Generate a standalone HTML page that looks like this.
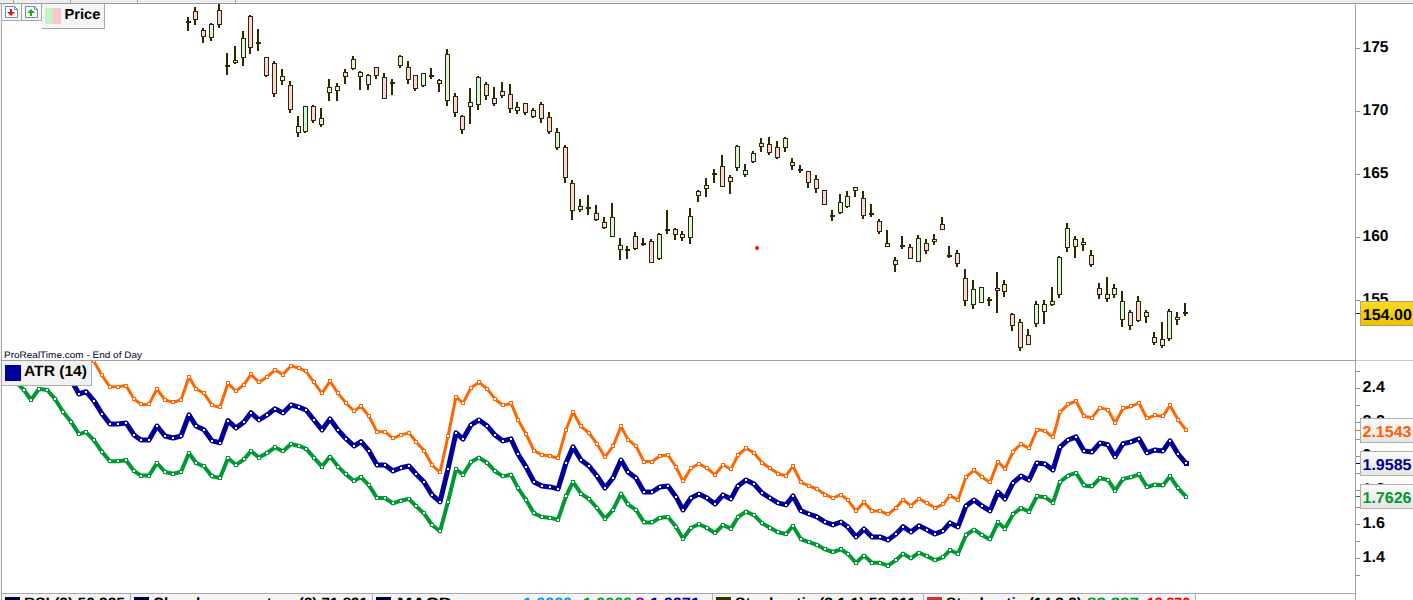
<!DOCTYPE html>
<html><head><meta charset="utf-8"><title>Chart</title><style>
html,body{margin:0;padding:0;background:#fff;width:1413px;height:600px;overflow:hidden}
svg{display:block}
text{font-family:"Liberation Sans",sans-serif;text-rendering:geometricPrecision}
</style></head><body>
<svg width="1413" height="600" viewBox="0 0 1413 600">
<defs>
<clipPath id="pc"><rect x="2" y="4" width="1353" height="356"/></clipPath>
<clipPath id="ac"><rect x="2" y="361" width="1353" height="232"/></clipPath>
<linearGradient id="yg" x1="0" y1="0" x2="0" y2="1"><stop offset="0" stop-color="#f8dc20"/><stop offset="1" stop-color="#f0c000"/></linearGradient>
</defs>
<g shape-rendering="crispEdges">
<rect x="0" y="0" width="1413" height="3" fill="#ededed"/>
<rect x="0" y="3" width="1413" height="1" fill="#9c9c9c"/>
<rect x="13" y="0" width="1" height="3" fill="#a8a8a0"/>
<rect x="70" y="0" width="1" height="3" fill="#a8a8a0"/>
<rect x="137" y="0" width="1" height="3" fill="#a8a8a0"/>
<rect x="235" y="0" width="1" height="3" fill="#a8a8a0"/>
<rect x="0" y="4" width="1" height="596" fill="#f2f2f6"/>
<rect x="1" y="4" width="1" height="596" fill="#a8a8a4"/>
<rect x="1355" y="4" width="1" height="596" fill="#a4a4a8"/>
<rect x="2" y="360" width="1353" height="1" fill="#a0a0a0"/>
<rect x="1356" y="360" width="57" height="1" fill="#c8c8d0"/>
<rect x="2" y="593" width="1353" height="1" fill="#a8a8b0"/>
<rect x="2" y="594" width="1193" height="6" fill="#f4f4f4"/>
</g>
<g clip-path="url(#pc)" shape-rendering="crispEdges">
<rect x="187" y="17" width="2" height="14" fill="#2a2a00"/>
<rect x="186" y="21" width="5" height="2" fill="#2a2a00"/>
<rect x="194" y="7" width="2" height="18" fill="#2a2a00"/>
<rect x="193" y="11" width="5" height="9" fill="#2a2a00"/>
<rect x="194" y="12" width="3" height="7" fill="#ffd4d6"/>
<rect x="202" y="28" width="2" height="15" fill="#2a2a00"/>
<rect x="201" y="30" width="5" height="7" fill="#2a2a00"/>
<rect x="202" y="31" width="3" height="5" fill="#ffd4d6"/>
<rect x="210" y="23" width="2" height="18" fill="#2a2a00"/>
<rect x="209" y="24" width="5" height="14" fill="#2a2a00"/>
<rect x="210" y="25" width="3" height="12" fill="#d6f8da"/>
<rect x="218" y="3" width="2" height="25" fill="#2a2a00"/>
<rect x="217" y="10" width="5" height="15" fill="#2a2a00"/>
<rect x="218" y="11" width="3" height="13" fill="#ffd4d6"/>
<rect x="226" y="53" width="2" height="22" fill="#2a2a00"/>
<rect x="225" y="65" width="5" height="2" fill="#2a2a00"/>
<rect x="234" y="46" width="2" height="18" fill="#2a2a00"/>
<rect x="233" y="60" width="5" height="3" fill="#2a2a00"/>
<rect x="234" y="61" width="3" height="1" fill="#d6f8da"/>
<rect x="242" y="31" width="2" height="35" fill="#2a2a00"/>
<rect x="241" y="38" width="5" height="20" fill="#2a2a00"/>
<rect x="242" y="39" width="3" height="18" fill="#d6f8da"/>
<rect x="249" y="15" width="2" height="39" fill="#2a2a00"/>
<rect x="248" y="16" width="5" height="32" fill="#2a2a00"/>
<rect x="249" y="17" width="3" height="30" fill="#ffd4d6"/>
<rect x="257" y="29" width="2" height="22" fill="#2a2a00"/>
<rect x="256" y="42" width="5" height="2" fill="#2a2a00"/>
<rect x="265" y="57" width="2" height="20" fill="#2a2a00"/>
<rect x="264" y="57" width="5" height="19" fill="#2a2a00"/>
<rect x="265" y="58" width="3" height="17" fill="#ffd4d6"/>
<rect x="273" y="61" width="2" height="36" fill="#2a2a00"/>
<rect x="272" y="63" width="5" height="31" fill="#2a2a00"/>
<rect x="273" y="64" width="3" height="29" fill="#ffd4d6"/>
<rect x="281" y="69" width="2" height="16" fill="#2a2a00"/>
<rect x="280" y="76" width="5" height="5" fill="#2a2a00"/>
<rect x="281" y="77" width="3" height="3" fill="#d6f8da"/>
<rect x="289" y="81" width="2" height="32" fill="#2a2a00"/>
<rect x="288" y="85" width="5" height="25" fill="#2a2a00"/>
<rect x="289" y="86" width="3" height="23" fill="#ffd4d6"/>
<rect x="297" y="116" width="2" height="21" fill="#2a2a00"/>
<rect x="296" y="126" width="5" height="7" fill="#2a2a00"/>
<rect x="297" y="127" width="3" height="5" fill="#d6f8da"/>
<rect x="304" y="106" width="2" height="27" fill="#2a2a00"/>
<rect x="303" y="106" width="5" height="26" fill="#2a2a00"/>
<rect x="304" y="107" width="3" height="24" fill="#d6f8da"/>
<rect x="312" y="105" width="2" height="18" fill="#2a2a00"/>
<rect x="311" y="106" width="5" height="15" fill="#2a2a00"/>
<rect x="312" y="107" width="3" height="13" fill="#ffd4d6"/>
<rect x="320" y="108" width="2" height="19" fill="#2a2a00"/>
<rect x="319" y="118" width="5" height="7" fill="#2a2a00"/>
<rect x="320" y="119" width="3" height="5" fill="#d6f8da"/>
<rect x="328" y="79" width="2" height="22" fill="#2a2a00"/>
<rect x="327" y="87" width="5" height="6" fill="#2a2a00"/>
<rect x="328" y="88" width="3" height="4" fill="#d6f8da"/>
<rect x="336" y="83" width="2" height="18" fill="#2a2a00"/>
<rect x="335" y="86" width="5" height="5" fill="#2a2a00"/>
<rect x="336" y="87" width="3" height="3" fill="#d6f8da"/>
<rect x="344" y="69" width="2" height="15" fill="#2a2a00"/>
<rect x="343" y="72" width="5" height="5" fill="#2a2a00"/>
<rect x="344" y="73" width="3" height="3" fill="#ffd4d6"/>
<rect x="352" y="56" width="2" height="14" fill="#2a2a00"/>
<rect x="351" y="59" width="5" height="10" fill="#2a2a00"/>
<rect x="352" y="60" width="3" height="8" fill="#d6f8da"/>
<rect x="359" y="71" width="2" height="19" fill="#2a2a00"/>
<rect x="358" y="72" width="5" height="5" fill="#2a2a00"/>
<rect x="359" y="73" width="3" height="3" fill="#d6f8da"/>
<rect x="367" y="74" width="2" height="16" fill="#2a2a00"/>
<rect x="366" y="75" width="5" height="10" fill="#2a2a00"/>
<rect x="367" y="76" width="3" height="8" fill="#d6f8da"/>
<rect x="375" y="67" width="2" height="12" fill="#2a2a00"/>
<rect x="374" y="67" width="5" height="9" fill="#2a2a00"/>
<rect x="375" y="68" width="3" height="7" fill="#ffd4d6"/>
<rect x="383" y="73" width="2" height="26" fill="#2a2a00"/>
<rect x="382" y="77" width="5" height="22" fill="#2a2a00"/>
<rect x="383" y="78" width="3" height="20" fill="#ffd4d6"/>
<rect x="391" y="79" width="2" height="16" fill="#2a2a00"/>
<rect x="390" y="82" width="5" height="2" fill="#2a2a00"/>
<rect x="399" y="55" width="2" height="13" fill="#2a2a00"/>
<rect x="398" y="56" width="5" height="10" fill="#2a2a00"/>
<rect x="399" y="57" width="3" height="8" fill="#d6f8da"/>
<rect x="407" y="61" width="2" height="23" fill="#2a2a00"/>
<rect x="406" y="67" width="5" height="13" fill="#2a2a00"/>
<rect x="407" y="68" width="3" height="11" fill="#ffd4d6"/>
<rect x="414" y="75" width="2" height="16" fill="#2a2a00"/>
<rect x="413" y="75" width="5" height="14" fill="#2a2a00"/>
<rect x="414" y="76" width="3" height="12" fill="#ffd4d6"/>
<rect x="422" y="73" width="2" height="14" fill="#2a2a00"/>
<rect x="421" y="73" width="5" height="13" fill="#2a2a00"/>
<rect x="422" y="74" width="3" height="11" fill="#d6f8da"/>
<rect x="430" y="68" width="2" height="11" fill="#2a2a00"/>
<rect x="429" y="75" width="5" height="2" fill="#2a2a00"/>
<rect x="438" y="79" width="2" height="13" fill="#2a2a00"/>
<rect x="437" y="80" width="5" height="4" fill="#2a2a00"/>
<rect x="438" y="81" width="3" height="2" fill="#ffd4d6"/>
<rect x="446" y="49" width="2" height="57" fill="#2a2a00"/>
<rect x="445" y="54" width="5" height="47" fill="#2a2a00"/>
<rect x="446" y="55" width="3" height="45" fill="#d6f8da"/>
<rect x="454" y="93" width="2" height="24" fill="#2a2a00"/>
<rect x="453" y="96" width="5" height="17" fill="#2a2a00"/>
<rect x="454" y="97" width="3" height="15" fill="#ffd4d6"/>
<rect x="461" y="115" width="2" height="19" fill="#2a2a00"/>
<rect x="460" y="116" width="5" height="14" fill="#2a2a00"/>
<rect x="461" y="117" width="3" height="12" fill="#ffd4d6"/>
<rect x="469" y="88" width="2" height="36" fill="#2a2a00"/>
<rect x="468" y="102" width="5" height="5" fill="#2a2a00"/>
<rect x="469" y="103" width="3" height="3" fill="#d6f8da"/>
<rect x="477" y="76" width="2" height="34" fill="#2a2a00"/>
<rect x="476" y="77" width="5" height="28" fill="#2a2a00"/>
<rect x="477" y="78" width="3" height="26" fill="#d6f8da"/>
<rect x="485" y="82" width="2" height="18" fill="#2a2a00"/>
<rect x="484" y="84" width="5" height="12" fill="#2a2a00"/>
<rect x="485" y="85" width="3" height="10" fill="#ffd4d6"/>
<rect x="493" y="87" width="2" height="19" fill="#2a2a00"/>
<rect x="492" y="98" width="5" height="6" fill="#2a2a00"/>
<rect x="493" y="99" width="3" height="4" fill="#ffd4d6"/>
<rect x="501" y="82" width="2" height="16" fill="#2a2a00"/>
<rect x="500" y="91" width="5" height="5" fill="#2a2a00"/>
<rect x="501" y="92" width="3" height="3" fill="#ffd4d6"/>
<rect x="509" y="84" width="2" height="29" fill="#2a2a00"/>
<rect x="508" y="94" width="5" height="15" fill="#2a2a00"/>
<rect x="509" y="95" width="3" height="13" fill="#ffd4d6"/>
<rect x="516" y="102" width="2" height="12" fill="#2a2a00"/>
<rect x="515" y="107" width="5" height="4" fill="#2a2a00"/>
<rect x="516" y="108" width="3" height="2" fill="#ffd4d6"/>
<rect x="524" y="103" width="2" height="12" fill="#2a2a00"/>
<rect x="523" y="103" width="5" height="10" fill="#2a2a00"/>
<rect x="524" y="104" width="3" height="8" fill="#ffd4d6"/>
<rect x="532" y="108" width="2" height="10" fill="#2a2a00"/>
<rect x="531" y="110" width="5" height="7" fill="#2a2a00"/>
<rect x="532" y="111" width="3" height="5" fill="#ffd4d6"/>
<rect x="540" y="102" width="2" height="21" fill="#2a2a00"/>
<rect x="539" y="104" width="5" height="15" fill="#2a2a00"/>
<rect x="540" y="105" width="3" height="13" fill="#ffd4d6"/>
<rect x="548" y="112" width="2" height="22" fill="#2a2a00"/>
<rect x="547" y="117" width="5" height="15" fill="#2a2a00"/>
<rect x="548" y="118" width="3" height="13" fill="#ffd4d6"/>
<rect x="556" y="128" width="2" height="22" fill="#2a2a00"/>
<rect x="555" y="132" width="5" height="16" fill="#2a2a00"/>
<rect x="556" y="133" width="3" height="14" fill="#d6f8da"/>
<rect x="564" y="145" width="2" height="38" fill="#2a2a00"/>
<rect x="563" y="147" width="5" height="31" fill="#2a2a00"/>
<rect x="564" y="148" width="3" height="29" fill="#ffd4d6"/>
<rect x="571" y="180" width="2" height="40" fill="#2a2a00"/>
<rect x="570" y="183" width="5" height="28" fill="#2a2a00"/>
<rect x="571" y="184" width="3" height="26" fill="#ffd4d6"/>
<rect x="579" y="199" width="2" height="13" fill="#2a2a00"/>
<rect x="578" y="206" width="5" height="4" fill="#2a2a00"/>
<rect x="579" y="207" width="3" height="2" fill="#ffd4d6"/>
<rect x="587" y="195" width="2" height="20" fill="#2a2a00"/>
<rect x="586" y="207" width="5" height="2" fill="#2a2a00"/>
<rect x="595" y="205" width="2" height="16" fill="#2a2a00"/>
<rect x="594" y="213" width="5" height="7" fill="#2a2a00"/>
<rect x="595" y="214" width="3" height="5" fill="#ffd4d6"/>
<rect x="603" y="217" width="2" height="12" fill="#2a2a00"/>
<rect x="602" y="222" width="5" height="6" fill="#2a2a00"/>
<rect x="603" y="223" width="3" height="4" fill="#ffd4d6"/>
<rect x="611" y="203" width="2" height="34" fill="#2a2a00"/>
<rect x="610" y="217" width="5" height="20" fill="#2a2a00"/>
<rect x="611" y="218" width="3" height="18" fill="#d6f8da"/>
<rect x="619" y="238" width="2" height="22" fill="#2a2a00"/>
<rect x="618" y="245" width="5" height="5" fill="#2a2a00"/>
<rect x="619" y="246" width="3" height="3" fill="#d6f8da"/>
<rect x="626" y="246" width="2" height="13" fill="#2a2a00"/>
<rect x="625" y="249" width="5" height="2" fill="#2a2a00"/>
<rect x="634" y="232" width="2" height="18" fill="#2a2a00"/>
<rect x="633" y="236" width="5" height="13" fill="#2a2a00"/>
<rect x="634" y="237" width="3" height="11" fill="#ffd4d6"/>
<rect x="642" y="238" width="2" height="8" fill="#2a2a00"/>
<rect x="641" y="243" width="5" height="2" fill="#2a2a00"/>
<rect x="650" y="239" width="2" height="24" fill="#2a2a00"/>
<rect x="649" y="241" width="5" height="22" fill="#2a2a00"/>
<rect x="650" y="242" width="3" height="20" fill="#ffd4d6"/>
<rect x="658" y="233" width="2" height="27" fill="#2a2a00"/>
<rect x="657" y="234" width="5" height="25" fill="#2a2a00"/>
<rect x="658" y="235" width="3" height="23" fill="#d6f8da"/>
<rect x="666" y="210" width="2" height="24" fill="#2a2a00"/>
<rect x="665" y="229" width="5" height="2" fill="#2a2a00"/>
<rect x="674" y="228" width="2" height="12" fill="#2a2a00"/>
<rect x="673" y="229" width="5" height="6" fill="#2a2a00"/>
<rect x="674" y="230" width="3" height="4" fill="#ffd4d6"/>
<rect x="681" y="231" width="2" height="10" fill="#2a2a00"/>
<rect x="680" y="234" width="5" height="4" fill="#2a2a00"/>
<rect x="681" y="235" width="3" height="2" fill="#ffd4d6"/>
<rect x="689" y="208" width="2" height="36" fill="#2a2a00"/>
<rect x="688" y="216" width="5" height="22" fill="#2a2a00"/>
<rect x="689" y="217" width="3" height="20" fill="#d6f8da"/>
<rect x="697" y="190" width="2" height="12" fill="#2a2a00"/>
<rect x="696" y="191" width="5" height="5" fill="#2a2a00"/>
<rect x="697" y="192" width="3" height="3" fill="#d6f8da"/>
<rect x="705" y="178" width="2" height="19" fill="#2a2a00"/>
<rect x="704" y="185" width="5" height="4" fill="#2a2a00"/>
<rect x="705" y="186" width="3" height="2" fill="#d6f8da"/>
<rect x="713" y="169" width="2" height="14" fill="#2a2a00"/>
<rect x="712" y="173" width="5" height="2" fill="#2a2a00"/>
<rect x="721" y="155" width="2" height="32" fill="#2a2a00"/>
<rect x="720" y="166" width="5" height="21" fill="#2a2a00"/>
<rect x="721" y="167" width="3" height="19" fill="#ffd4d6"/>
<rect x="729" y="175" width="2" height="19" fill="#2a2a00"/>
<rect x="728" y="177" width="5" height="5" fill="#2a2a00"/>
<rect x="729" y="178" width="3" height="3" fill="#ffd4d6"/>
<rect x="736" y="145" width="2" height="26" fill="#2a2a00"/>
<rect x="735" y="146" width="5" height="22" fill="#2a2a00"/>
<rect x="736" y="147" width="3" height="20" fill="#d6f8da"/>
<rect x="744" y="164" width="2" height="13" fill="#2a2a00"/>
<rect x="743" y="170" width="5" height="5" fill="#2a2a00"/>
<rect x="744" y="171" width="3" height="3" fill="#d6f8da"/>
<rect x="752" y="151" width="2" height="12" fill="#2a2a00"/>
<rect x="751" y="153" width="5" height="9" fill="#2a2a00"/>
<rect x="752" y="154" width="3" height="7" fill="#d6f8da"/>
<rect x="760" y="138" width="2" height="14" fill="#2a2a00"/>
<rect x="759" y="143" width="5" height="4" fill="#2a2a00"/>
<rect x="760" y="144" width="3" height="2" fill="#ffd4d6"/>
<rect x="768" y="137" width="2" height="18" fill="#2a2a00"/>
<rect x="767" y="144" width="5" height="9" fill="#2a2a00"/>
<rect x="768" y="145" width="3" height="7" fill="#ffd4d6"/>
<rect x="776" y="141" width="2" height="18" fill="#2a2a00"/>
<rect x="775" y="147" width="5" height="11" fill="#2a2a00"/>
<rect x="776" y="148" width="3" height="9" fill="#ffd4d6"/>
<rect x="784" y="137" width="2" height="15" fill="#2a2a00"/>
<rect x="783" y="138" width="5" height="10" fill="#2a2a00"/>
<rect x="784" y="139" width="3" height="8" fill="#d6f8da"/>
<rect x="791" y="158" width="2" height="12" fill="#2a2a00"/>
<rect x="790" y="162" width="5" height="4" fill="#2a2a00"/>
<rect x="791" y="163" width="3" height="2" fill="#ffd4d6"/>
<rect x="799" y="165" width="2" height="8" fill="#2a2a00"/>
<rect x="798" y="169" width="5" height="2" fill="#2a2a00"/>
<rect x="807" y="171" width="2" height="17" fill="#2a2a00"/>
<rect x="806" y="171" width="5" height="12" fill="#2a2a00"/>
<rect x="807" y="172" width="3" height="10" fill="#ffd4d6"/>
<rect x="815" y="175" width="2" height="18" fill="#2a2a00"/>
<rect x="814" y="179" width="5" height="10" fill="#2a2a00"/>
<rect x="815" y="180" width="3" height="8" fill="#ffd4d6"/>
<rect x="823" y="190" width="2" height="15" fill="#2a2a00"/>
<rect x="822" y="190" width="5" height="15" fill="#2a2a00"/>
<rect x="823" y="191" width="3" height="13" fill="#ffd4d6"/>
<rect x="831" y="210" width="2" height="11" fill="#2a2a00"/>
<rect x="830" y="215" width="5" height="2" fill="#2a2a00"/>
<rect x="839" y="194" width="2" height="20" fill="#2a2a00"/>
<rect x="838" y="202" width="5" height="11" fill="#2a2a00"/>
<rect x="839" y="203" width="3" height="9" fill="#d6f8da"/>
<rect x="846" y="191" width="2" height="17" fill="#2a2a00"/>
<rect x="845" y="196" width="5" height="11" fill="#2a2a00"/>
<rect x="846" y="197" width="3" height="9" fill="#d6f8da"/>
<rect x="854" y="187" width="2" height="10" fill="#2a2a00"/>
<rect x="853" y="187" width="5" height="4" fill="#2a2a00"/>
<rect x="854" y="188" width="3" height="2" fill="#ffd4d6"/>
<rect x="862" y="191" width="2" height="28" fill="#2a2a00"/>
<rect x="861" y="198" width="5" height="18" fill="#2a2a00"/>
<rect x="862" y="199" width="3" height="16" fill="#ffd4d6"/>
<rect x="870" y="204" width="2" height="13" fill="#2a2a00"/>
<rect x="869" y="213" width="5" height="2" fill="#2a2a00"/>
<rect x="878" y="219" width="2" height="15" fill="#2a2a00"/>
<rect x="877" y="221" width="5" height="11" fill="#2a2a00"/>
<rect x="878" y="222" width="3" height="9" fill="#ffd4d6"/>
<rect x="886" y="230" width="2" height="17" fill="#2a2a00"/>
<rect x="885" y="243" width="5" height="4" fill="#2a2a00"/>
<rect x="886" y="244" width="3" height="2" fill="#ffd4d6"/>
<rect x="894" y="257" width="2" height="15" fill="#2a2a00"/>
<rect x="893" y="260" width="5" height="5" fill="#2a2a00"/>
<rect x="894" y="261" width="3" height="3" fill="#ffd4d6"/>
<rect x="901" y="236" width="2" height="13" fill="#2a2a00"/>
<rect x="900" y="245" width="5" height="2" fill="#2a2a00"/>
<rect x="909" y="244" width="2" height="15" fill="#2a2a00"/>
<rect x="908" y="247" width="5" height="12" fill="#2a2a00"/>
<rect x="909" y="248" width="3" height="10" fill="#ffd4d6"/>
<rect x="917" y="235" width="2" height="27" fill="#2a2a00"/>
<rect x="916" y="238" width="5" height="24" fill="#2a2a00"/>
<rect x="917" y="239" width="3" height="22" fill="#d6f8da"/>
<rect x="925" y="239" width="2" height="15" fill="#2a2a00"/>
<rect x="924" y="243" width="5" height="8" fill="#2a2a00"/>
<rect x="925" y="244" width="3" height="6" fill="#ffd4d6"/>
<rect x="933" y="234" width="2" height="11" fill="#2a2a00"/>
<rect x="932" y="239" width="5" height="3" fill="#2a2a00"/>
<rect x="933" y="240" width="3" height="1" fill="#d6f8da"/>
<rect x="941" y="217" width="2" height="13" fill="#2a2a00"/>
<rect x="940" y="224" width="5" height="6" fill="#2a2a00"/>
<rect x="941" y="225" width="3" height="4" fill="#ffd4d6"/>
<rect x="948" y="246" width="2" height="12" fill="#2a2a00"/>
<rect x="947" y="255" width="5" height="2" fill="#2a2a00"/>
<rect x="956" y="250" width="2" height="17" fill="#2a2a00"/>
<rect x="955" y="253" width="5" height="11" fill="#2a2a00"/>
<rect x="956" y="254" width="3" height="9" fill="#ffd4d6"/>
<rect x="964" y="269" width="2" height="37" fill="#2a2a00"/>
<rect x="963" y="278" width="5" height="23" fill="#2a2a00"/>
<rect x="964" y="279" width="3" height="21" fill="#ffd4d6"/>
<rect x="972" y="280" width="2" height="29" fill="#2a2a00"/>
<rect x="971" y="289" width="5" height="16" fill="#2a2a00"/>
<rect x="972" y="290" width="3" height="14" fill="#d6f8da"/>
<rect x="980" y="287" width="2" height="16" fill="#2a2a00"/>
<rect x="979" y="287" width="5" height="16" fill="#2a2a00"/>
<rect x="980" y="288" width="3" height="14" fill="#d6f8da"/>
<rect x="988" y="297" width="2" height="9" fill="#2a2a00"/>
<rect x="987" y="299" width="5" height="2" fill="#2a2a00"/>
<rect x="996" y="272" width="2" height="41" fill="#2a2a00"/>
<rect x="995" y="288" width="5" height="3" fill="#2a2a00"/>
<rect x="996" y="289" width="3" height="1" fill="#ffd4d6"/>
<rect x="1003" y="280" width="2" height="17" fill="#2a2a00"/>
<rect x="1002" y="284" width="5" height="8" fill="#2a2a00"/>
<rect x="1003" y="285" width="3" height="6" fill="#ffd4d6"/>
<rect x="1011" y="313" width="2" height="18" fill="#2a2a00"/>
<rect x="1010" y="314" width="5" height="12" fill="#2a2a00"/>
<rect x="1011" y="315" width="3" height="10" fill="#ffd4d6"/>
<rect x="1019" y="319" width="2" height="32" fill="#2a2a00"/>
<rect x="1018" y="322" width="5" height="26" fill="#2a2a00"/>
<rect x="1019" y="323" width="3" height="24" fill="#ffd4d6"/>
<rect x="1027" y="329" width="2" height="16" fill="#2a2a00"/>
<rect x="1026" y="335" width="5" height="10" fill="#2a2a00"/>
<rect x="1027" y="336" width="3" height="8" fill="#ffd4d6"/>
<rect x="1035" y="301" width="2" height="26" fill="#2a2a00"/>
<rect x="1034" y="304" width="5" height="20" fill="#2a2a00"/>
<rect x="1035" y="305" width="3" height="18" fill="#d6f8da"/>
<rect x="1043" y="300" width="2" height="24" fill="#2a2a00"/>
<rect x="1042" y="304" width="5" height="8" fill="#2a2a00"/>
<rect x="1043" y="305" width="3" height="6" fill="#d6f8da"/>
<rect x="1051" y="287" width="2" height="19" fill="#2a2a00"/>
<rect x="1050" y="301" width="5" height="4" fill="#2a2a00"/>
<rect x="1051" y="302" width="3" height="2" fill="#ffd4d6"/>
<rect x="1058" y="256" width="2" height="42" fill="#2a2a00"/>
<rect x="1057" y="257" width="5" height="38" fill="#2a2a00"/>
<rect x="1058" y="258" width="3" height="36" fill="#d6f8da"/>
<rect x="1066" y="223" width="2" height="29" fill="#2a2a00"/>
<rect x="1065" y="228" width="5" height="20" fill="#2a2a00"/>
<rect x="1066" y="229" width="3" height="18" fill="#d6f8da"/>
<rect x="1074" y="236" width="2" height="22" fill="#2a2a00"/>
<rect x="1073" y="239" width="5" height="8" fill="#2a2a00"/>
<rect x="1074" y="240" width="3" height="6" fill="#d6f8da"/>
<rect x="1082" y="238" width="2" height="13" fill="#2a2a00"/>
<rect x="1081" y="242" width="5" height="3" fill="#2a2a00"/>
<rect x="1082" y="243" width="3" height="1" fill="#d6f8da"/>
<rect x="1090" y="250" width="2" height="17" fill="#2a2a00"/>
<rect x="1089" y="255" width="5" height="10" fill="#2a2a00"/>
<rect x="1090" y="256" width="3" height="8" fill="#ffd4d6"/>
<rect x="1098" y="283" width="2" height="16" fill="#2a2a00"/>
<rect x="1097" y="288" width="5" height="7" fill="#2a2a00"/>
<rect x="1098" y="289" width="3" height="5" fill="#ffd4d6"/>
<rect x="1106" y="277" width="2" height="25" fill="#2a2a00"/>
<rect x="1105" y="294" width="5" height="5" fill="#2a2a00"/>
<rect x="1106" y="295" width="3" height="3" fill="#ffd4d6"/>
<rect x="1113" y="284" width="2" height="14" fill="#2a2a00"/>
<rect x="1112" y="288" width="5" height="7" fill="#2a2a00"/>
<rect x="1113" y="289" width="3" height="5" fill="#d6f8da"/>
<rect x="1121" y="291" width="2" height="36" fill="#2a2a00"/>
<rect x="1120" y="301" width="5" height="19" fill="#2a2a00"/>
<rect x="1121" y="302" width="3" height="17" fill="#d6f8da"/>
<rect x="1129" y="310" width="2" height="20" fill="#2a2a00"/>
<rect x="1128" y="312" width="5" height="14" fill="#2a2a00"/>
<rect x="1129" y="313" width="3" height="12" fill="#ffd4d6"/>
<rect x="1137" y="296" width="2" height="26" fill="#2a2a00"/>
<rect x="1136" y="301" width="5" height="20" fill="#2a2a00"/>
<rect x="1137" y="302" width="3" height="18" fill="#ffd4d6"/>
<rect x="1145" y="310" width="2" height="13" fill="#2a2a00"/>
<rect x="1144" y="312" width="5" height="5" fill="#2a2a00"/>
<rect x="1145" y="313" width="3" height="3" fill="#ffd4d6"/>
<rect x="1153" y="332" width="2" height="13" fill="#2a2a00"/>
<rect x="1152" y="337" width="5" height="6" fill="#2a2a00"/>
<rect x="1153" y="338" width="3" height="4" fill="#ffd4d6"/>
<rect x="1161" y="322" width="2" height="26" fill="#2a2a00"/>
<rect x="1160" y="339" width="5" height="7" fill="#2a2a00"/>
<rect x="1161" y="340" width="3" height="5" fill="#ffd4d6"/>
<rect x="1168" y="309" width="2" height="32" fill="#2a2a00"/>
<rect x="1167" y="311" width="5" height="28" fill="#2a2a00"/>
<rect x="1168" y="312" width="3" height="26" fill="#d6f8da"/>
<rect x="1176" y="312" width="2" height="13" fill="#2a2a00"/>
<rect x="1175" y="317" width="5" height="3" fill="#2a2a00"/>
<rect x="1176" y="318" width="3" height="1" fill="#d6f8da"/>
<rect x="1184" y="303" width="2" height="13" fill="#2a2a00"/>
<rect x="1183" y="312" width="5" height="2" fill="#2a2a00"/>
</g>
<circle cx="757" cy="248" r="2" fill="#ee1111"/>
<g clip-path="url(#ac)">
<polyline points="16,290.0 24,299.8 31,312.0 39,298.4 47,299.4 55,310.6 63,326.3 71,338.5 79,353.8 86,351.3 94,361.4 102,375.5 110,386.8 118,386.8 126,385.6 134,398.8 141,404.4 149,404.4 157,389.0 165,400.0 173,402.2 181,400.0 189,376.8 196,389.0 204,393.1 212,405.4 220,407.4 228,383.2 236,391.2 244,384.6 251,374.4 259,382.4 267,376.8 275,370.0 283,374.6 291,365.8 299,368.2 306,371.4 314,382.4 322,393.4 330,381.2 338,393.4 346,403.0 354,411.0 361,406.3 369,416.4 377,431.8 385,431.8 393,438.4 401,434.9 409,433.0 416,441.8 424,450.6 432,464.8 440,472.5 448,436.4 456,396.6 463,403.3 471,387.8 479,382.4 487,388.7 495,399.0 503,405.4 511,403.2 518,419.8 526,434.0 534,450.6 542,455.0 550,456.0 558,458.2 566,429.8 573,412.0 581,426.4 589,433.0 597,444.0 605,457.2 613,446.2 621,426.4 628,439.6 636,446.2 644,461.6 652,461.6 660,456.0 668,455.0 676,467.0 683,481.4 691,468.2 699,463.8 707,468.2 715,474.8 723,464.8 731,469.2 738,455.0 746,448.4 754,452.8 762,462.6 770,468.2 778,473.6 786,475.8 793,466.0 801,482.3 809,485.8 817,489.0 825,494.6 833,497.8 841,494.6 848,500.2 856,511.0 864,502.2 872,511.0 880,511.0 888,514.4 896,507.8 903,499.8 911,505.6 919,498.7 927,503.1 935,507.8 943,504.4 950,495.6 958,500.0 966,477.0 974,470.4 982,477.0 990,482.4 998,461.6 1005,469.2 1013,451.6 1021,444.0 1029,448.4 1037,429.6 1045,430.8 1053,437.4 1060,412.2 1068,404.4 1076,401.0 1084,416.4 1092,417.6 1100,407.6 1108,409.7 1115,422.9 1123,408.5 1131,406.5 1139,403.0 1147,418.5 1155,415.3 1163,416.4 1170,405.3 1178,419.7 1186,430.0" fill="none" stroke="#ff6600" stroke-width="3" stroke-linejoin="round"/>
<rect x="14" y="288" width="4" height="4" fill="#ff6600"/><rect x="15" y="289" width="2" height="2" fill="#fff"/><rect x="22" y="298" width="4" height="4" fill="#ff6600"/><rect x="23" y="299" width="2" height="2" fill="#fff"/><rect x="29" y="310" width="4" height="4" fill="#ff6600"/><rect x="30" y="311" width="2" height="2" fill="#fff"/><rect x="37" y="296" width="4" height="4" fill="#ff6600"/><rect x="38" y="297" width="2" height="2" fill="#fff"/><rect x="45" y="297" width="4" height="4" fill="#ff6600"/><rect x="46" y="298" width="2" height="2" fill="#fff"/><rect x="53" y="309" width="4" height="4" fill="#ff6600"/><rect x="54" y="310" width="2" height="2" fill="#fff"/><rect x="61" y="324" width="4" height="4" fill="#ff6600"/><rect x="62" y="325" width="2" height="2" fill="#fff"/><rect x="69" y="337" width="4" height="4" fill="#ff6600"/><rect x="70" y="338" width="2" height="2" fill="#fff"/><rect x="77" y="352" width="4" height="4" fill="#ff6600"/><rect x="78" y="353" width="2" height="2" fill="#fff"/><rect x="84" y="349" width="4" height="4" fill="#ff6600"/><rect x="85" y="350" width="2" height="2" fill="#fff"/><rect x="92" y="359" width="4" height="4" fill="#ff6600"/><rect x="93" y="360" width="2" height="2" fill="#fff"/><rect x="100" y="373" width="4" height="4" fill="#ff6600"/><rect x="101" y="374" width="2" height="2" fill="#fff"/><rect x="108" y="385" width="4" height="4" fill="#ff6600"/><rect x="109" y="386" width="2" height="2" fill="#fff"/><rect x="116" y="385" width="4" height="4" fill="#ff6600"/><rect x="117" y="386" width="2" height="2" fill="#fff"/><rect x="124" y="384" width="4" height="4" fill="#ff6600"/><rect x="125" y="385" width="2" height="2" fill="#fff"/><rect x="132" y="397" width="4" height="4" fill="#ff6600"/><rect x="133" y="398" width="2" height="2" fill="#fff"/><rect x="139" y="402" width="4" height="4" fill="#ff6600"/><rect x="140" y="403" width="2" height="2" fill="#fff"/><rect x="147" y="402" width="4" height="4" fill="#ff6600"/><rect x="148" y="403" width="2" height="2" fill="#fff"/><rect x="155" y="387" width="4" height="4" fill="#ff6600"/><rect x="156" y="388" width="2" height="2" fill="#fff"/><rect x="163" y="398" width="4" height="4" fill="#ff6600"/><rect x="164" y="399" width="2" height="2" fill="#fff"/><rect x="171" y="400" width="4" height="4" fill="#ff6600"/><rect x="172" y="401" width="2" height="2" fill="#fff"/><rect x="179" y="398" width="4" height="4" fill="#ff6600"/><rect x="180" y="399" width="2" height="2" fill="#fff"/><rect x="187" y="375" width="4" height="4" fill="#ff6600"/><rect x="188" y="376" width="2" height="2" fill="#fff"/><rect x="194" y="387" width="4" height="4" fill="#ff6600"/><rect x="195" y="388" width="2" height="2" fill="#fff"/><rect x="202" y="391" width="4" height="4" fill="#ff6600"/><rect x="203" y="392" width="2" height="2" fill="#fff"/><rect x="210" y="403" width="4" height="4" fill="#ff6600"/><rect x="211" y="404" width="2" height="2" fill="#fff"/><rect x="218" y="405" width="4" height="4" fill="#ff6600"/><rect x="219" y="406" width="2" height="2" fill="#fff"/><rect x="226" y="381" width="4" height="4" fill="#ff6600"/><rect x="227" y="382" width="2" height="2" fill="#fff"/><rect x="234" y="389" width="4" height="4" fill="#ff6600"/><rect x="235" y="390" width="2" height="2" fill="#fff"/><rect x="242" y="383" width="4" height="4" fill="#ff6600"/><rect x="243" y="384" width="2" height="2" fill="#fff"/><rect x="249" y="372" width="4" height="4" fill="#ff6600"/><rect x="250" y="373" width="2" height="2" fill="#fff"/><rect x="257" y="380" width="4" height="4" fill="#ff6600"/><rect x="258" y="381" width="2" height="2" fill="#fff"/><rect x="265" y="375" width="4" height="4" fill="#ff6600"/><rect x="266" y="376" width="2" height="2" fill="#fff"/><rect x="273" y="368" width="4" height="4" fill="#ff6600"/><rect x="274" y="369" width="2" height="2" fill="#fff"/><rect x="281" y="373" width="4" height="4" fill="#ff6600"/><rect x="282" y="374" width="2" height="2" fill="#fff"/><rect x="289" y="364" width="4" height="4" fill="#ff6600"/><rect x="290" y="365" width="2" height="2" fill="#fff"/><rect x="297" y="366" width="4" height="4" fill="#ff6600"/><rect x="298" y="367" width="2" height="2" fill="#fff"/><rect x="304" y="369" width="4" height="4" fill="#ff6600"/><rect x="305" y="370" width="2" height="2" fill="#fff"/><rect x="312" y="380" width="4" height="4" fill="#ff6600"/><rect x="313" y="381" width="2" height="2" fill="#fff"/><rect x="320" y="391" width="4" height="4" fill="#ff6600"/><rect x="321" y="392" width="2" height="2" fill="#fff"/><rect x="328" y="379" width="4" height="4" fill="#ff6600"/><rect x="329" y="380" width="2" height="2" fill="#fff"/><rect x="336" y="391" width="4" height="4" fill="#ff6600"/><rect x="337" y="392" width="2" height="2" fill="#fff"/><rect x="344" y="401" width="4" height="4" fill="#ff6600"/><rect x="345" y="402" width="2" height="2" fill="#fff"/><rect x="352" y="409" width="4" height="4" fill="#ff6600"/><rect x="353" y="410" width="2" height="2" fill="#fff"/><rect x="359" y="404" width="4" height="4" fill="#ff6600"/><rect x="360" y="405" width="2" height="2" fill="#fff"/><rect x="367" y="414" width="4" height="4" fill="#ff6600"/><rect x="368" y="415" width="2" height="2" fill="#fff"/><rect x="375" y="430" width="4" height="4" fill="#ff6600"/><rect x="376" y="431" width="2" height="2" fill="#fff"/><rect x="383" y="430" width="4" height="4" fill="#ff6600"/><rect x="384" y="431" width="2" height="2" fill="#fff"/><rect x="391" y="436" width="4" height="4" fill="#ff6600"/><rect x="392" y="437" width="2" height="2" fill="#fff"/><rect x="399" y="433" width="4" height="4" fill="#ff6600"/><rect x="400" y="434" width="2" height="2" fill="#fff"/><rect x="407" y="431" width="4" height="4" fill="#ff6600"/><rect x="408" y="432" width="2" height="2" fill="#fff"/><rect x="414" y="440" width="4" height="4" fill="#ff6600"/><rect x="415" y="441" width="2" height="2" fill="#fff"/><rect x="422" y="449" width="4" height="4" fill="#ff6600"/><rect x="423" y="450" width="2" height="2" fill="#fff"/><rect x="430" y="463" width="4" height="4" fill="#ff6600"/><rect x="431" y="464" width="2" height="2" fill="#fff"/><rect x="438" y="470" width="4" height="4" fill="#ff6600"/><rect x="439" y="471" width="2" height="2" fill="#fff"/><rect x="446" y="434" width="4" height="4" fill="#ff6600"/><rect x="447" y="435" width="2" height="2" fill="#fff"/><rect x="454" y="395" width="4" height="4" fill="#ff6600"/><rect x="455" y="396" width="2" height="2" fill="#fff"/><rect x="461" y="401" width="4" height="4" fill="#ff6600"/><rect x="462" y="402" width="2" height="2" fill="#fff"/><rect x="469" y="386" width="4" height="4" fill="#ff6600"/><rect x="470" y="387" width="2" height="2" fill="#fff"/><rect x="477" y="380" width="4" height="4" fill="#ff6600"/><rect x="478" y="381" width="2" height="2" fill="#fff"/><rect x="485" y="387" width="4" height="4" fill="#ff6600"/><rect x="486" y="388" width="2" height="2" fill="#fff"/><rect x="493" y="397" width="4" height="4" fill="#ff6600"/><rect x="494" y="398" width="2" height="2" fill="#fff"/><rect x="501" y="403" width="4" height="4" fill="#ff6600"/><rect x="502" y="404" width="2" height="2" fill="#fff"/><rect x="509" y="401" width="4" height="4" fill="#ff6600"/><rect x="510" y="402" width="2" height="2" fill="#fff"/><rect x="516" y="418" width="4" height="4" fill="#ff6600"/><rect x="517" y="419" width="2" height="2" fill="#fff"/><rect x="524" y="432" width="4" height="4" fill="#ff6600"/><rect x="525" y="433" width="2" height="2" fill="#fff"/><rect x="532" y="449" width="4" height="4" fill="#ff6600"/><rect x="533" y="450" width="2" height="2" fill="#fff"/><rect x="540" y="453" width="4" height="4" fill="#ff6600"/><rect x="541" y="454" width="2" height="2" fill="#fff"/><rect x="548" y="454" width="4" height="4" fill="#ff6600"/><rect x="549" y="455" width="2" height="2" fill="#fff"/><rect x="556" y="456" width="4" height="4" fill="#ff6600"/><rect x="557" y="457" width="2" height="2" fill="#fff"/><rect x="564" y="428" width="4" height="4" fill="#ff6600"/><rect x="565" y="429" width="2" height="2" fill="#fff"/><rect x="571" y="410" width="4" height="4" fill="#ff6600"/><rect x="572" y="411" width="2" height="2" fill="#fff"/><rect x="579" y="424" width="4" height="4" fill="#ff6600"/><rect x="580" y="425" width="2" height="2" fill="#fff"/><rect x="587" y="431" width="4" height="4" fill="#ff6600"/><rect x="588" y="432" width="2" height="2" fill="#fff"/><rect x="595" y="442" width="4" height="4" fill="#ff6600"/><rect x="596" y="443" width="2" height="2" fill="#fff"/><rect x="603" y="455" width="4" height="4" fill="#ff6600"/><rect x="604" y="456" width="2" height="2" fill="#fff"/><rect x="611" y="444" width="4" height="4" fill="#ff6600"/><rect x="612" y="445" width="2" height="2" fill="#fff"/><rect x="619" y="424" width="4" height="4" fill="#ff6600"/><rect x="620" y="425" width="2" height="2" fill="#fff"/><rect x="626" y="438" width="4" height="4" fill="#ff6600"/><rect x="627" y="439" width="2" height="2" fill="#fff"/><rect x="634" y="444" width="4" height="4" fill="#ff6600"/><rect x="635" y="445" width="2" height="2" fill="#fff"/><rect x="642" y="460" width="4" height="4" fill="#ff6600"/><rect x="643" y="461" width="2" height="2" fill="#fff"/><rect x="650" y="460" width="4" height="4" fill="#ff6600"/><rect x="651" y="461" width="2" height="2" fill="#fff"/><rect x="658" y="454" width="4" height="4" fill="#ff6600"/><rect x="659" y="455" width="2" height="2" fill="#fff"/><rect x="666" y="453" width="4" height="4" fill="#ff6600"/><rect x="667" y="454" width="2" height="2" fill="#fff"/><rect x="674" y="465" width="4" height="4" fill="#ff6600"/><rect x="675" y="466" width="2" height="2" fill="#fff"/><rect x="681" y="479" width="4" height="4" fill="#ff6600"/><rect x="682" y="480" width="2" height="2" fill="#fff"/><rect x="689" y="466" width="4" height="4" fill="#ff6600"/><rect x="690" y="467" width="2" height="2" fill="#fff"/><rect x="697" y="462" width="4" height="4" fill="#ff6600"/><rect x="698" y="463" width="2" height="2" fill="#fff"/><rect x="705" y="466" width="4" height="4" fill="#ff6600"/><rect x="706" y="467" width="2" height="2" fill="#fff"/><rect x="713" y="473" width="4" height="4" fill="#ff6600"/><rect x="714" y="474" width="2" height="2" fill="#fff"/><rect x="721" y="463" width="4" height="4" fill="#ff6600"/><rect x="722" y="464" width="2" height="2" fill="#fff"/><rect x="729" y="467" width="4" height="4" fill="#ff6600"/><rect x="730" y="468" width="2" height="2" fill="#fff"/><rect x="736" y="453" width="4" height="4" fill="#ff6600"/><rect x="737" y="454" width="2" height="2" fill="#fff"/><rect x="744" y="446" width="4" height="4" fill="#ff6600"/><rect x="745" y="447" width="2" height="2" fill="#fff"/><rect x="752" y="451" width="4" height="4" fill="#ff6600"/><rect x="753" y="452" width="2" height="2" fill="#fff"/><rect x="760" y="461" width="4" height="4" fill="#ff6600"/><rect x="761" y="462" width="2" height="2" fill="#fff"/><rect x="768" y="466" width="4" height="4" fill="#ff6600"/><rect x="769" y="467" width="2" height="2" fill="#fff"/><rect x="776" y="472" width="4" height="4" fill="#ff6600"/><rect x="777" y="473" width="2" height="2" fill="#fff"/><rect x="784" y="474" width="4" height="4" fill="#ff6600"/><rect x="785" y="475" width="2" height="2" fill="#fff"/><rect x="791" y="464" width="4" height="4" fill="#ff6600"/><rect x="792" y="465" width="2" height="2" fill="#fff"/><rect x="799" y="480" width="4" height="4" fill="#ff6600"/><rect x="800" y="481" width="2" height="2" fill="#fff"/><rect x="807" y="484" width="4" height="4" fill="#ff6600"/><rect x="808" y="485" width="2" height="2" fill="#fff"/><rect x="815" y="487" width="4" height="4" fill="#ff6600"/><rect x="816" y="488" width="2" height="2" fill="#fff"/><rect x="823" y="493" width="4" height="4" fill="#ff6600"/><rect x="824" y="494" width="2" height="2" fill="#fff"/><rect x="831" y="496" width="4" height="4" fill="#ff6600"/><rect x="832" y="497" width="2" height="2" fill="#fff"/><rect x="839" y="493" width="4" height="4" fill="#ff6600"/><rect x="840" y="494" width="2" height="2" fill="#fff"/><rect x="846" y="498" width="4" height="4" fill="#ff6600"/><rect x="847" y="499" width="2" height="2" fill="#fff"/><rect x="854" y="509" width="4" height="4" fill="#ff6600"/><rect x="855" y="510" width="2" height="2" fill="#fff"/><rect x="862" y="500" width="4" height="4" fill="#ff6600"/><rect x="863" y="501" width="2" height="2" fill="#fff"/><rect x="870" y="509" width="4" height="4" fill="#ff6600"/><rect x="871" y="510" width="2" height="2" fill="#fff"/><rect x="878" y="509" width="4" height="4" fill="#ff6600"/><rect x="879" y="510" width="2" height="2" fill="#fff"/><rect x="886" y="512" width="4" height="4" fill="#ff6600"/><rect x="887" y="513" width="2" height="2" fill="#fff"/><rect x="894" y="506" width="4" height="4" fill="#ff6600"/><rect x="895" y="507" width="2" height="2" fill="#fff"/><rect x="901" y="498" width="4" height="4" fill="#ff6600"/><rect x="902" y="499" width="2" height="2" fill="#fff"/><rect x="909" y="504" width="4" height="4" fill="#ff6600"/><rect x="910" y="505" width="2" height="2" fill="#fff"/><rect x="917" y="497" width="4" height="4" fill="#ff6600"/><rect x="918" y="498" width="2" height="2" fill="#fff"/><rect x="925" y="501" width="4" height="4" fill="#ff6600"/><rect x="926" y="502" width="2" height="2" fill="#fff"/><rect x="933" y="506" width="4" height="4" fill="#ff6600"/><rect x="934" y="507" width="2" height="2" fill="#fff"/><rect x="941" y="502" width="4" height="4" fill="#ff6600"/><rect x="942" y="503" width="2" height="2" fill="#fff"/><rect x="948" y="494" width="4" height="4" fill="#ff6600"/><rect x="949" y="495" width="2" height="2" fill="#fff"/><rect x="956" y="498" width="4" height="4" fill="#ff6600"/><rect x="957" y="499" width="2" height="2" fill="#fff"/><rect x="964" y="475" width="4" height="4" fill="#ff6600"/><rect x="965" y="476" width="2" height="2" fill="#fff"/><rect x="972" y="468" width="4" height="4" fill="#ff6600"/><rect x="973" y="469" width="2" height="2" fill="#fff"/><rect x="980" y="475" width="4" height="4" fill="#ff6600"/><rect x="981" y="476" width="2" height="2" fill="#fff"/><rect x="988" y="480" width="4" height="4" fill="#ff6600"/><rect x="989" y="481" width="2" height="2" fill="#fff"/><rect x="996" y="460" width="4" height="4" fill="#ff6600"/><rect x="997" y="461" width="2" height="2" fill="#fff"/><rect x="1003" y="467" width="4" height="4" fill="#ff6600"/><rect x="1004" y="468" width="2" height="2" fill="#fff"/><rect x="1011" y="450" width="4" height="4" fill="#ff6600"/><rect x="1012" y="451" width="2" height="2" fill="#fff"/><rect x="1019" y="442" width="4" height="4" fill="#ff6600"/><rect x="1020" y="443" width="2" height="2" fill="#fff"/><rect x="1027" y="446" width="4" height="4" fill="#ff6600"/><rect x="1028" y="447" width="2" height="2" fill="#fff"/><rect x="1035" y="428" width="4" height="4" fill="#ff6600"/><rect x="1036" y="429" width="2" height="2" fill="#fff"/><rect x="1043" y="429" width="4" height="4" fill="#ff6600"/><rect x="1044" y="430" width="2" height="2" fill="#fff"/><rect x="1051" y="435" width="4" height="4" fill="#ff6600"/><rect x="1052" y="436" width="2" height="2" fill="#fff"/><rect x="1058" y="410" width="4" height="4" fill="#ff6600"/><rect x="1059" y="411" width="2" height="2" fill="#fff"/><rect x="1066" y="402" width="4" height="4" fill="#ff6600"/><rect x="1067" y="403" width="2" height="2" fill="#fff"/><rect x="1074" y="399" width="4" height="4" fill="#ff6600"/><rect x="1075" y="400" width="2" height="2" fill="#fff"/><rect x="1082" y="414" width="4" height="4" fill="#ff6600"/><rect x="1083" y="415" width="2" height="2" fill="#fff"/><rect x="1090" y="416" width="4" height="4" fill="#ff6600"/><rect x="1091" y="417" width="2" height="2" fill="#fff"/><rect x="1098" y="406" width="4" height="4" fill="#ff6600"/><rect x="1099" y="407" width="2" height="2" fill="#fff"/><rect x="1106" y="408" width="4" height="4" fill="#ff6600"/><rect x="1107" y="409" width="2" height="2" fill="#fff"/><rect x="1113" y="421" width="4" height="4" fill="#ff6600"/><rect x="1114" y="422" width="2" height="2" fill="#fff"/><rect x="1121" y="406" width="4" height="4" fill="#ff6600"/><rect x="1122" y="407" width="2" height="2" fill="#fff"/><rect x="1129" y="404" width="4" height="4" fill="#ff6600"/><rect x="1130" y="405" width="2" height="2" fill="#fff"/><rect x="1137" y="401" width="4" height="4" fill="#ff6600"/><rect x="1138" y="402" width="2" height="2" fill="#fff"/><rect x="1145" y="416" width="4" height="4" fill="#ff6600"/><rect x="1146" y="417" width="2" height="2" fill="#fff"/><rect x="1153" y="413" width="4" height="4" fill="#ff6600"/><rect x="1154" y="414" width="2" height="2" fill="#fff"/><rect x="1161" y="414" width="4" height="4" fill="#ff6600"/><rect x="1162" y="415" width="2" height="2" fill="#fff"/><rect x="1168" y="403" width="4" height="4" fill="#ff6600"/><rect x="1169" y="404" width="2" height="2" fill="#fff"/><rect x="1176" y="418" width="4" height="4" fill="#ff6600"/><rect x="1177" y="419" width="2" height="2" fill="#fff"/><rect x="1184" y="428" width="4" height="4" fill="#ff6600"/><rect x="1185" y="429" width="2" height="2" fill="#fff"/>
<polyline points="16,336.0 24,344.9 31,356.0 39,343.7 47,344.5 55,354.8 63,369.0 71,380.1 79,394.0 86,391.7 94,400.9 102,413.7 110,424.0 118,424.0 126,422.9 134,434.9 141,440.0 149,440.0 157,426.0 165,436.0 173,438.0 181,436.0 189,414.9 196,426.0 204,429.7 212,440.9 220,442.7 228,420.7 236,428.0 244,422.0 251,412.7 259,420.0 267,414.9 275,408.7 283,412.9 291,404.9 299,407.1 306,410.0 314,420.0 322,430.0 330,418.9 338,430.0 346,438.7 354,446.0 361,441.7 369,450.9 377,464.9 385,464.9 393,470.9 401,467.7 409,466.0 416,474.0 424,482.0 432,494.9 440,501.9 448,469.1 456,432.9 463,439.0 471,424.9 479,420.0 487,425.7 495,435.1 503,440.9 511,438.9 518,454.0 526,466.9 534,482.0 542,486.0 550,486.9 558,488.9 566,463.1 573,446.9 581,460.0 589,466.0 597,476.0 605,488.0 613,478.0 621,460.0 628,472.0 636,478.0 644,492.0 652,492.0 660,486.9 668,486.0 676,496.9 683,510.0 691,498.0 699,494.0 707,498.0 715,504.0 723,494.9 731,498.9 738,486.0 746,480.0 754,484.0 762,492.9 770,498.0 778,502.9 786,504.9 793,496.0 801,510.8 809,514.0 817,516.9 825,522.0 833,524.9 841,522.0 848,527.1 856,536.9 864,528.9 872,536.9 880,536.9 888,540.0 896,534.0 903,526.7 911,532.0 919,525.7 927,529.7 935,534.0 943,530.9 950,522.9 958,526.9 966,506.0 974,500.0 982,506.0 990,510.9 998,492.0 1005,498.9 1013,482.9 1021,476.0 1029,480.0 1037,462.9 1045,464.0 1053,470.0 1060,447.1 1068,440.0 1076,436.9 1084,450.9 1092,452.0 1100,442.9 1108,444.8 1115,456.8 1123,443.7 1131,441.9 1139,438.7 1147,452.8 1155,449.9 1163,450.9 1170,440.8 1178,453.9 1186,463.3" fill="none" stroke="#000099" stroke-width="5" stroke-linejoin="round"/>
<rect x="15" y="335" width="2" height="2" fill="#fff"/><rect x="23" y="344" width="2" height="2" fill="#fff"/><rect x="30" y="355" width="2" height="2" fill="#fff"/><rect x="38" y="343" width="2" height="2" fill="#fff"/><rect x="46" y="344" width="2" height="2" fill="#fff"/><rect x="54" y="354" width="2" height="2" fill="#fff"/><rect x="62" y="368" width="2" height="2" fill="#fff"/><rect x="70" y="379" width="2" height="2" fill="#fff"/><rect x="78" y="393" width="2" height="2" fill="#fff"/><rect x="85" y="391" width="2" height="2" fill="#fff"/><rect x="93" y="400" width="2" height="2" fill="#fff"/><rect x="101" y="413" width="2" height="2" fill="#fff"/><rect x="109" y="423" width="2" height="2" fill="#fff"/><rect x="117" y="423" width="2" height="2" fill="#fff"/><rect x="125" y="422" width="2" height="2" fill="#fff"/><rect x="133" y="434" width="2" height="2" fill="#fff"/><rect x="140" y="439" width="2" height="2" fill="#fff"/><rect x="148" y="439" width="2" height="2" fill="#fff"/><rect x="156" y="425" width="2" height="2" fill="#fff"/><rect x="164" y="435" width="2" height="2" fill="#fff"/><rect x="172" y="437" width="2" height="2" fill="#fff"/><rect x="180" y="435" width="2" height="2" fill="#fff"/><rect x="188" y="414" width="2" height="2" fill="#fff"/><rect x="195" y="425" width="2" height="2" fill="#fff"/><rect x="203" y="429" width="2" height="2" fill="#fff"/><rect x="211" y="440" width="2" height="2" fill="#fff"/><rect x="219" y="442" width="2" height="2" fill="#fff"/><rect x="227" y="420" width="2" height="2" fill="#fff"/><rect x="235" y="427" width="2" height="2" fill="#fff"/><rect x="243" y="421" width="2" height="2" fill="#fff"/><rect x="250" y="412" width="2" height="2" fill="#fff"/><rect x="258" y="419" width="2" height="2" fill="#fff"/><rect x="266" y="414" width="2" height="2" fill="#fff"/><rect x="274" y="408" width="2" height="2" fill="#fff"/><rect x="282" y="412" width="2" height="2" fill="#fff"/><rect x="290" y="404" width="2" height="2" fill="#fff"/><rect x="298" y="406" width="2" height="2" fill="#fff"/><rect x="305" y="409" width="2" height="2" fill="#fff"/><rect x="313" y="419" width="2" height="2" fill="#fff"/><rect x="321" y="429" width="2" height="2" fill="#fff"/><rect x="329" y="418" width="2" height="2" fill="#fff"/><rect x="337" y="429" width="2" height="2" fill="#fff"/><rect x="345" y="438" width="2" height="2" fill="#fff"/><rect x="353" y="445" width="2" height="2" fill="#fff"/><rect x="360" y="441" width="2" height="2" fill="#fff"/><rect x="368" y="450" width="2" height="2" fill="#fff"/><rect x="376" y="464" width="2" height="2" fill="#fff"/><rect x="384" y="464" width="2" height="2" fill="#fff"/><rect x="392" y="470" width="2" height="2" fill="#fff"/><rect x="400" y="467" width="2" height="2" fill="#fff"/><rect x="408" y="465" width="2" height="2" fill="#fff"/><rect x="415" y="473" width="2" height="2" fill="#fff"/><rect x="423" y="481" width="2" height="2" fill="#fff"/><rect x="431" y="494" width="2" height="2" fill="#fff"/><rect x="439" y="501" width="2" height="2" fill="#fff"/><rect x="447" y="468" width="2" height="2" fill="#fff"/><rect x="455" y="432" width="2" height="2" fill="#fff"/><rect x="462" y="438" width="2" height="2" fill="#fff"/><rect x="470" y="424" width="2" height="2" fill="#fff"/><rect x="478" y="419" width="2" height="2" fill="#fff"/><rect x="486" y="425" width="2" height="2" fill="#fff"/><rect x="494" y="434" width="2" height="2" fill="#fff"/><rect x="502" y="440" width="2" height="2" fill="#fff"/><rect x="510" y="438" width="2" height="2" fill="#fff"/><rect x="517" y="453" width="2" height="2" fill="#fff"/><rect x="525" y="466" width="2" height="2" fill="#fff"/><rect x="533" y="481" width="2" height="2" fill="#fff"/><rect x="541" y="485" width="2" height="2" fill="#fff"/><rect x="549" y="486" width="2" height="2" fill="#fff"/><rect x="557" y="488" width="2" height="2" fill="#fff"/><rect x="565" y="462" width="2" height="2" fill="#fff"/><rect x="572" y="446" width="2" height="2" fill="#fff"/><rect x="580" y="459" width="2" height="2" fill="#fff"/><rect x="588" y="465" width="2" height="2" fill="#fff"/><rect x="596" y="475" width="2" height="2" fill="#fff"/><rect x="604" y="487" width="2" height="2" fill="#fff"/><rect x="612" y="477" width="2" height="2" fill="#fff"/><rect x="620" y="459" width="2" height="2" fill="#fff"/><rect x="627" y="471" width="2" height="2" fill="#fff"/><rect x="635" y="477" width="2" height="2" fill="#fff"/><rect x="643" y="491" width="2" height="2" fill="#fff"/><rect x="651" y="491" width="2" height="2" fill="#fff"/><rect x="659" y="486" width="2" height="2" fill="#fff"/><rect x="667" y="485" width="2" height="2" fill="#fff"/><rect x="675" y="496" width="2" height="2" fill="#fff"/><rect x="682" y="509" width="2" height="2" fill="#fff"/><rect x="690" y="497" width="2" height="2" fill="#fff"/><rect x="698" y="493" width="2" height="2" fill="#fff"/><rect x="706" y="497" width="2" height="2" fill="#fff"/><rect x="714" y="503" width="2" height="2" fill="#fff"/><rect x="722" y="494" width="2" height="2" fill="#fff"/><rect x="730" y="498" width="2" height="2" fill="#fff"/><rect x="737" y="485" width="2" height="2" fill="#fff"/><rect x="745" y="479" width="2" height="2" fill="#fff"/><rect x="753" y="483" width="2" height="2" fill="#fff"/><rect x="761" y="492" width="2" height="2" fill="#fff"/><rect x="769" y="497" width="2" height="2" fill="#fff"/><rect x="777" y="502" width="2" height="2" fill="#fff"/><rect x="785" y="504" width="2" height="2" fill="#fff"/><rect x="792" y="495" width="2" height="2" fill="#fff"/><rect x="800" y="510" width="2" height="2" fill="#fff"/><rect x="808" y="513" width="2" height="2" fill="#fff"/><rect x="816" y="516" width="2" height="2" fill="#fff"/><rect x="824" y="521" width="2" height="2" fill="#fff"/><rect x="832" y="524" width="2" height="2" fill="#fff"/><rect x="840" y="521" width="2" height="2" fill="#fff"/><rect x="847" y="526" width="2" height="2" fill="#fff"/><rect x="855" y="536" width="2" height="2" fill="#fff"/><rect x="863" y="528" width="2" height="2" fill="#fff"/><rect x="871" y="536" width="2" height="2" fill="#fff"/><rect x="879" y="536" width="2" height="2" fill="#fff"/><rect x="887" y="539" width="2" height="2" fill="#fff"/><rect x="895" y="533" width="2" height="2" fill="#fff"/><rect x="902" y="526" width="2" height="2" fill="#fff"/><rect x="910" y="531" width="2" height="2" fill="#fff"/><rect x="918" y="525" width="2" height="2" fill="#fff"/><rect x="926" y="529" width="2" height="2" fill="#fff"/><rect x="934" y="533" width="2" height="2" fill="#fff"/><rect x="942" y="530" width="2" height="2" fill="#fff"/><rect x="949" y="522" width="2" height="2" fill="#fff"/><rect x="957" y="526" width="2" height="2" fill="#fff"/><rect x="965" y="505" width="2" height="2" fill="#fff"/><rect x="973" y="499" width="2" height="2" fill="#fff"/><rect x="981" y="505" width="2" height="2" fill="#fff"/><rect x="989" y="510" width="2" height="2" fill="#fff"/><rect x="997" y="491" width="2" height="2" fill="#fff"/><rect x="1004" y="498" width="2" height="2" fill="#fff"/><rect x="1012" y="482" width="2" height="2" fill="#fff"/><rect x="1020" y="475" width="2" height="2" fill="#fff"/><rect x="1028" y="479" width="2" height="2" fill="#fff"/><rect x="1036" y="462" width="2" height="2" fill="#fff"/><rect x="1044" y="463" width="2" height="2" fill="#fff"/><rect x="1052" y="469" width="2" height="2" fill="#fff"/><rect x="1059" y="446" width="2" height="2" fill="#fff"/><rect x="1067" y="439" width="2" height="2" fill="#fff"/><rect x="1075" y="436" width="2" height="2" fill="#fff"/><rect x="1083" y="450" width="2" height="2" fill="#fff"/><rect x="1091" y="451" width="2" height="2" fill="#fff"/><rect x="1099" y="442" width="2" height="2" fill="#fff"/><rect x="1107" y="444" width="2" height="2" fill="#fff"/><rect x="1114" y="456" width="2" height="2" fill="#fff"/><rect x="1122" y="443" width="2" height="2" fill="#fff"/><rect x="1130" y="441" width="2" height="2" fill="#fff"/><rect x="1138" y="438" width="2" height="2" fill="#fff"/><rect x="1146" y="452" width="2" height="2" fill="#fff"/><rect x="1154" y="449" width="2" height="2" fill="#fff"/><rect x="1162" y="450" width="2" height="2" fill="#fff"/><rect x="1169" y="440" width="2" height="2" fill="#fff"/><rect x="1177" y="453" width="2" height="2" fill="#fff"/><rect x="1184" y="461" width="5" height="5" fill="#000099"/><rect x="1185" y="462" width="2" height="2" fill="#fff"/>
<polyline points="16,382.0 24,390.0 31,400.0 39,388.9 47,389.7 55,398.9 63,411.7 71,421.7 79,434.2 86,432.1 94,440.4 102,451.9 110,461.2 118,461.2 126,460.2 134,471.0 141,475.6 149,475.6 157,463.0 165,472.0 173,473.8 181,472.0 189,453.0 196,463.0 204,466.3 212,476.4 220,478.0 228,458.2 236,464.8 244,459.4 251,451.0 259,457.6 267,453.0 275,447.4 283,451.2 291,444.0 299,446.0 306,448.6 314,457.6 322,466.6 330,456.6 338,466.6 346,474.4 354,481.0 361,477.1 369,485.4 377,498.0 385,498.0 393,503.4 401,500.5 409,499.0 416,506.2 424,513.4 432,525.0 440,531.3 448,501.8 456,469.2 463,474.7 471,462.0 479,457.6 487,462.7 495,471.2 503,476.4 511,474.6 518,488.2 526,499.8 534,513.4 542,517.0 550,517.8 558,519.6 566,496.4 573,481.8 581,493.6 589,499.0 597,508.0 605,518.8 613,509.8 621,493.6 628,504.4 636,509.8 644,522.4 652,522.4 660,517.8 668,517.0 676,526.8 683,538.6 691,527.8 699,524.2 707,527.8 715,533.2 723,525.0 731,528.6 738,517.0 746,511.6 754,515.2 762,523.2 770,527.8 778,532.2 786,534.0 793,526.0 801,539.3 809,542.2 817,544.8 825,549.4 833,552.0 841,549.4 848,554.0 856,562.8 864,555.6 872,562.8 880,562.8 888,565.6 896,560.2 903,553.6 911,558.4 919,552.7 927,556.3 935,560.2 943,557.4 950,550.2 958,553.8 966,535.0 974,529.6 982,535.0 990,539.4 998,522.4 1005,528.6 1013,514.2 1021,508.0 1029,511.6 1037,496.2 1045,497.2 1053,502.6 1060,482.0 1068,475.6 1076,472.8 1084,485.4 1092,486.4 1100,478.2 1108,479.9 1115,490.7 1123,478.9 1131,477.3 1139,474.4 1147,487.1 1155,484.5 1163,485.4 1170,476.3 1178,488.1 1186,496.6" fill="none" stroke="#009933" stroke-width="4" stroke-linejoin="round"/>
<rect x="14" y="380" width="4" height="4" fill="#009933"/><rect x="15" y="381" width="2" height="2" fill="#fff"/><rect x="22" y="388" width="4" height="4" fill="#009933"/><rect x="23" y="389" width="2" height="2" fill="#fff"/><rect x="29" y="398" width="4" height="4" fill="#009933"/><rect x="30" y="399" width="2" height="2" fill="#fff"/><rect x="37" y="387" width="4" height="4" fill="#009933"/><rect x="38" y="388" width="2" height="2" fill="#fff"/><rect x="45" y="388" width="4" height="4" fill="#009933"/><rect x="46" y="389" width="2" height="2" fill="#fff"/><rect x="53" y="397" width="4" height="4" fill="#009933"/><rect x="54" y="398" width="2" height="2" fill="#fff"/><rect x="61" y="410" width="4" height="4" fill="#009933"/><rect x="62" y="411" width="2" height="2" fill="#fff"/><rect x="69" y="420" width="4" height="4" fill="#009933"/><rect x="70" y="421" width="2" height="2" fill="#fff"/><rect x="77" y="432" width="4" height="4" fill="#009933"/><rect x="78" y="433" width="2" height="2" fill="#fff"/><rect x="84" y="430" width="4" height="4" fill="#009933"/><rect x="85" y="431" width="2" height="2" fill="#fff"/><rect x="92" y="438" width="4" height="4" fill="#009933"/><rect x="93" y="439" width="2" height="2" fill="#fff"/><rect x="100" y="450" width="4" height="4" fill="#009933"/><rect x="101" y="451" width="2" height="2" fill="#fff"/><rect x="108" y="459" width="4" height="4" fill="#009933"/><rect x="109" y="460" width="2" height="2" fill="#fff"/><rect x="116" y="459" width="4" height="4" fill="#009933"/><rect x="117" y="460" width="2" height="2" fill="#fff"/><rect x="124" y="458" width="4" height="4" fill="#009933"/><rect x="125" y="459" width="2" height="2" fill="#fff"/><rect x="132" y="469" width="4" height="4" fill="#009933"/><rect x="133" y="470" width="2" height="2" fill="#fff"/><rect x="139" y="474" width="4" height="4" fill="#009933"/><rect x="140" y="475" width="2" height="2" fill="#fff"/><rect x="147" y="474" width="4" height="4" fill="#009933"/><rect x="148" y="475" width="2" height="2" fill="#fff"/><rect x="155" y="461" width="4" height="4" fill="#009933"/><rect x="156" y="462" width="2" height="2" fill="#fff"/><rect x="163" y="470" width="4" height="4" fill="#009933"/><rect x="164" y="471" width="2" height="2" fill="#fff"/><rect x="171" y="472" width="4" height="4" fill="#009933"/><rect x="172" y="473" width="2" height="2" fill="#fff"/><rect x="179" y="470" width="4" height="4" fill="#009933"/><rect x="180" y="471" width="2" height="2" fill="#fff"/><rect x="187" y="451" width="4" height="4" fill="#009933"/><rect x="188" y="452" width="2" height="2" fill="#fff"/><rect x="194" y="461" width="4" height="4" fill="#009933"/><rect x="195" y="462" width="2" height="2" fill="#fff"/><rect x="202" y="464" width="4" height="4" fill="#009933"/><rect x="203" y="465" width="2" height="2" fill="#fff"/><rect x="210" y="474" width="4" height="4" fill="#009933"/><rect x="211" y="475" width="2" height="2" fill="#fff"/><rect x="218" y="476" width="4" height="4" fill="#009933"/><rect x="219" y="477" width="2" height="2" fill="#fff"/><rect x="226" y="456" width="4" height="4" fill="#009933"/><rect x="227" y="457" width="2" height="2" fill="#fff"/><rect x="234" y="463" width="4" height="4" fill="#009933"/><rect x="235" y="464" width="2" height="2" fill="#fff"/><rect x="242" y="457" width="4" height="4" fill="#009933"/><rect x="243" y="458" width="2" height="2" fill="#fff"/><rect x="249" y="449" width="4" height="4" fill="#009933"/><rect x="250" y="450" width="2" height="2" fill="#fff"/><rect x="257" y="456" width="4" height="4" fill="#009933"/><rect x="258" y="457" width="2" height="2" fill="#fff"/><rect x="265" y="451" width="4" height="4" fill="#009933"/><rect x="266" y="452" width="2" height="2" fill="#fff"/><rect x="273" y="445" width="4" height="4" fill="#009933"/><rect x="274" y="446" width="2" height="2" fill="#fff"/><rect x="281" y="449" width="4" height="4" fill="#009933"/><rect x="282" y="450" width="2" height="2" fill="#fff"/><rect x="289" y="442" width="4" height="4" fill="#009933"/><rect x="290" y="443" width="2" height="2" fill="#fff"/><rect x="297" y="444" width="4" height="4" fill="#009933"/><rect x="298" y="445" width="2" height="2" fill="#fff"/><rect x="304" y="447" width="4" height="4" fill="#009933"/><rect x="305" y="448" width="2" height="2" fill="#fff"/><rect x="312" y="456" width="4" height="4" fill="#009933"/><rect x="313" y="457" width="2" height="2" fill="#fff"/><rect x="320" y="465" width="4" height="4" fill="#009933"/><rect x="321" y="466" width="2" height="2" fill="#fff"/><rect x="328" y="455" width="4" height="4" fill="#009933"/><rect x="329" y="456" width="2" height="2" fill="#fff"/><rect x="336" y="465" width="4" height="4" fill="#009933"/><rect x="337" y="466" width="2" height="2" fill="#fff"/><rect x="344" y="472" width="4" height="4" fill="#009933"/><rect x="345" y="473" width="2" height="2" fill="#fff"/><rect x="352" y="479" width="4" height="4" fill="#009933"/><rect x="353" y="480" width="2" height="2" fill="#fff"/><rect x="359" y="475" width="4" height="4" fill="#009933"/><rect x="360" y="476" width="2" height="2" fill="#fff"/><rect x="367" y="483" width="4" height="4" fill="#009933"/><rect x="368" y="484" width="2" height="2" fill="#fff"/><rect x="375" y="496" width="4" height="4" fill="#009933"/><rect x="376" y="497" width="2" height="2" fill="#fff"/><rect x="383" y="496" width="4" height="4" fill="#009933"/><rect x="384" y="497" width="2" height="2" fill="#fff"/><rect x="391" y="501" width="4" height="4" fill="#009933"/><rect x="392" y="502" width="2" height="2" fill="#fff"/><rect x="399" y="499" width="4" height="4" fill="#009933"/><rect x="400" y="500" width="2" height="2" fill="#fff"/><rect x="407" y="497" width="4" height="4" fill="#009933"/><rect x="408" y="498" width="2" height="2" fill="#fff"/><rect x="414" y="504" width="4" height="4" fill="#009933"/><rect x="415" y="505" width="2" height="2" fill="#fff"/><rect x="422" y="511" width="4" height="4" fill="#009933"/><rect x="423" y="512" width="2" height="2" fill="#fff"/><rect x="430" y="523" width="4" height="4" fill="#009933"/><rect x="431" y="524" width="2" height="2" fill="#fff"/><rect x="438" y="529" width="4" height="4" fill="#009933"/><rect x="439" y="530" width="2" height="2" fill="#fff"/><rect x="446" y="500" width="4" height="4" fill="#009933"/><rect x="447" y="501" width="2" height="2" fill="#fff"/><rect x="454" y="467" width="4" height="4" fill="#009933"/><rect x="455" y="468" width="2" height="2" fill="#fff"/><rect x="461" y="473" width="4" height="4" fill="#009933"/><rect x="462" y="474" width="2" height="2" fill="#fff"/><rect x="469" y="460" width="4" height="4" fill="#009933"/><rect x="470" y="461" width="2" height="2" fill="#fff"/><rect x="477" y="456" width="4" height="4" fill="#009933"/><rect x="478" y="457" width="2" height="2" fill="#fff"/><rect x="485" y="461" width="4" height="4" fill="#009933"/><rect x="486" y="462" width="2" height="2" fill="#fff"/><rect x="493" y="469" width="4" height="4" fill="#009933"/><rect x="494" y="470" width="2" height="2" fill="#fff"/><rect x="501" y="474" width="4" height="4" fill="#009933"/><rect x="502" y="475" width="2" height="2" fill="#fff"/><rect x="509" y="473" width="4" height="4" fill="#009933"/><rect x="510" y="474" width="2" height="2" fill="#fff"/><rect x="516" y="486" width="4" height="4" fill="#009933"/><rect x="517" y="487" width="2" height="2" fill="#fff"/><rect x="524" y="498" width="4" height="4" fill="#009933"/><rect x="525" y="499" width="2" height="2" fill="#fff"/><rect x="532" y="511" width="4" height="4" fill="#009933"/><rect x="533" y="512" width="2" height="2" fill="#fff"/><rect x="540" y="515" width="4" height="4" fill="#009933"/><rect x="541" y="516" width="2" height="2" fill="#fff"/><rect x="548" y="516" width="4" height="4" fill="#009933"/><rect x="549" y="517" width="2" height="2" fill="#fff"/><rect x="556" y="518" width="4" height="4" fill="#009933"/><rect x="557" y="519" width="2" height="2" fill="#fff"/><rect x="564" y="494" width="4" height="4" fill="#009933"/><rect x="565" y="495" width="2" height="2" fill="#fff"/><rect x="571" y="480" width="4" height="4" fill="#009933"/><rect x="572" y="481" width="2" height="2" fill="#fff"/><rect x="579" y="492" width="4" height="4" fill="#009933"/><rect x="580" y="493" width="2" height="2" fill="#fff"/><rect x="587" y="497" width="4" height="4" fill="#009933"/><rect x="588" y="498" width="2" height="2" fill="#fff"/><rect x="595" y="506" width="4" height="4" fill="#009933"/><rect x="596" y="507" width="2" height="2" fill="#fff"/><rect x="603" y="517" width="4" height="4" fill="#009933"/><rect x="604" y="518" width="2" height="2" fill="#fff"/><rect x="611" y="508" width="4" height="4" fill="#009933"/><rect x="612" y="509" width="2" height="2" fill="#fff"/><rect x="619" y="492" width="4" height="4" fill="#009933"/><rect x="620" y="493" width="2" height="2" fill="#fff"/><rect x="626" y="502" width="4" height="4" fill="#009933"/><rect x="627" y="503" width="2" height="2" fill="#fff"/><rect x="634" y="508" width="4" height="4" fill="#009933"/><rect x="635" y="509" width="2" height="2" fill="#fff"/><rect x="642" y="520" width="4" height="4" fill="#009933"/><rect x="643" y="521" width="2" height="2" fill="#fff"/><rect x="650" y="520" width="4" height="4" fill="#009933"/><rect x="651" y="521" width="2" height="2" fill="#fff"/><rect x="658" y="516" width="4" height="4" fill="#009933"/><rect x="659" y="517" width="2" height="2" fill="#fff"/><rect x="666" y="515" width="4" height="4" fill="#009933"/><rect x="667" y="516" width="2" height="2" fill="#fff"/><rect x="674" y="525" width="4" height="4" fill="#009933"/><rect x="675" y="526" width="2" height="2" fill="#fff"/><rect x="681" y="537" width="4" height="4" fill="#009933"/><rect x="682" y="538" width="2" height="2" fill="#fff"/><rect x="689" y="526" width="4" height="4" fill="#009933"/><rect x="690" y="527" width="2" height="2" fill="#fff"/><rect x="697" y="522" width="4" height="4" fill="#009933"/><rect x="698" y="523" width="2" height="2" fill="#fff"/><rect x="705" y="526" width="4" height="4" fill="#009933"/><rect x="706" y="527" width="2" height="2" fill="#fff"/><rect x="713" y="531" width="4" height="4" fill="#009933"/><rect x="714" y="532" width="2" height="2" fill="#fff"/><rect x="721" y="523" width="4" height="4" fill="#009933"/><rect x="722" y="524" width="2" height="2" fill="#fff"/><rect x="729" y="527" width="4" height="4" fill="#009933"/><rect x="730" y="528" width="2" height="2" fill="#fff"/><rect x="736" y="515" width="4" height="4" fill="#009933"/><rect x="737" y="516" width="2" height="2" fill="#fff"/><rect x="744" y="510" width="4" height="4" fill="#009933"/><rect x="745" y="511" width="2" height="2" fill="#fff"/><rect x="752" y="513" width="4" height="4" fill="#009933"/><rect x="753" y="514" width="2" height="2" fill="#fff"/><rect x="760" y="521" width="4" height="4" fill="#009933"/><rect x="761" y="522" width="2" height="2" fill="#fff"/><rect x="768" y="526" width="4" height="4" fill="#009933"/><rect x="769" y="527" width="2" height="2" fill="#fff"/><rect x="776" y="530" width="4" height="4" fill="#009933"/><rect x="777" y="531" width="2" height="2" fill="#fff"/><rect x="784" y="532" width="4" height="4" fill="#009933"/><rect x="785" y="533" width="2" height="2" fill="#fff"/><rect x="791" y="524" width="4" height="4" fill="#009933"/><rect x="792" y="525" width="2" height="2" fill="#fff"/><rect x="799" y="537" width="4" height="4" fill="#009933"/><rect x="800" y="538" width="2" height="2" fill="#fff"/><rect x="807" y="540" width="4" height="4" fill="#009933"/><rect x="808" y="541" width="2" height="2" fill="#fff"/><rect x="815" y="543" width="4" height="4" fill="#009933"/><rect x="816" y="544" width="2" height="2" fill="#fff"/><rect x="823" y="547" width="4" height="4" fill="#009933"/><rect x="824" y="548" width="2" height="2" fill="#fff"/><rect x="831" y="550" width="4" height="4" fill="#009933"/><rect x="832" y="551" width="2" height="2" fill="#fff"/><rect x="839" y="547" width="4" height="4" fill="#009933"/><rect x="840" y="548" width="2" height="2" fill="#fff"/><rect x="846" y="552" width="4" height="4" fill="#009933"/><rect x="847" y="553" width="2" height="2" fill="#fff"/><rect x="854" y="561" width="4" height="4" fill="#009933"/><rect x="855" y="562" width="2" height="2" fill="#fff"/><rect x="862" y="554" width="4" height="4" fill="#009933"/><rect x="863" y="555" width="2" height="2" fill="#fff"/><rect x="870" y="561" width="4" height="4" fill="#009933"/><rect x="871" y="562" width="2" height="2" fill="#fff"/><rect x="878" y="561" width="4" height="4" fill="#009933"/><rect x="879" y="562" width="2" height="2" fill="#fff"/><rect x="886" y="564" width="4" height="4" fill="#009933"/><rect x="887" y="565" width="2" height="2" fill="#fff"/><rect x="894" y="558" width="4" height="4" fill="#009933"/><rect x="895" y="559" width="2" height="2" fill="#fff"/><rect x="901" y="552" width="4" height="4" fill="#009933"/><rect x="902" y="553" width="2" height="2" fill="#fff"/><rect x="909" y="556" width="4" height="4" fill="#009933"/><rect x="910" y="557" width="2" height="2" fill="#fff"/><rect x="917" y="551" width="4" height="4" fill="#009933"/><rect x="918" y="552" width="2" height="2" fill="#fff"/><rect x="925" y="554" width="4" height="4" fill="#009933"/><rect x="926" y="555" width="2" height="2" fill="#fff"/><rect x="933" y="558" width="4" height="4" fill="#009933"/><rect x="934" y="559" width="2" height="2" fill="#fff"/><rect x="941" y="555" width="4" height="4" fill="#009933"/><rect x="942" y="556" width="2" height="2" fill="#fff"/><rect x="948" y="548" width="4" height="4" fill="#009933"/><rect x="949" y="549" width="2" height="2" fill="#fff"/><rect x="956" y="552" width="4" height="4" fill="#009933"/><rect x="957" y="553" width="2" height="2" fill="#fff"/><rect x="964" y="533" width="4" height="4" fill="#009933"/><rect x="965" y="534" width="2" height="2" fill="#fff"/><rect x="972" y="528" width="4" height="4" fill="#009933"/><rect x="973" y="529" width="2" height="2" fill="#fff"/><rect x="980" y="533" width="4" height="4" fill="#009933"/><rect x="981" y="534" width="2" height="2" fill="#fff"/><rect x="988" y="537" width="4" height="4" fill="#009933"/><rect x="989" y="538" width="2" height="2" fill="#fff"/><rect x="996" y="520" width="4" height="4" fill="#009933"/><rect x="997" y="521" width="2" height="2" fill="#fff"/><rect x="1003" y="527" width="4" height="4" fill="#009933"/><rect x="1004" y="528" width="2" height="2" fill="#fff"/><rect x="1011" y="512" width="4" height="4" fill="#009933"/><rect x="1012" y="513" width="2" height="2" fill="#fff"/><rect x="1019" y="506" width="4" height="4" fill="#009933"/><rect x="1020" y="507" width="2" height="2" fill="#fff"/><rect x="1027" y="510" width="4" height="4" fill="#009933"/><rect x="1028" y="511" width="2" height="2" fill="#fff"/><rect x="1035" y="494" width="4" height="4" fill="#009933"/><rect x="1036" y="495" width="2" height="2" fill="#fff"/><rect x="1043" y="495" width="4" height="4" fill="#009933"/><rect x="1044" y="496" width="2" height="2" fill="#fff"/><rect x="1051" y="501" width="4" height="4" fill="#009933"/><rect x="1052" y="502" width="2" height="2" fill="#fff"/><rect x="1058" y="480" width="4" height="4" fill="#009933"/><rect x="1059" y="481" width="2" height="2" fill="#fff"/><rect x="1066" y="474" width="4" height="4" fill="#009933"/><rect x="1067" y="475" width="2" height="2" fill="#fff"/><rect x="1074" y="471" width="4" height="4" fill="#009933"/><rect x="1075" y="472" width="2" height="2" fill="#fff"/><rect x="1082" y="483" width="4" height="4" fill="#009933"/><rect x="1083" y="484" width="2" height="2" fill="#fff"/><rect x="1090" y="484" width="4" height="4" fill="#009933"/><rect x="1091" y="485" width="2" height="2" fill="#fff"/><rect x="1098" y="476" width="4" height="4" fill="#009933"/><rect x="1099" y="477" width="2" height="2" fill="#fff"/><rect x="1106" y="478" width="4" height="4" fill="#009933"/><rect x="1107" y="479" width="2" height="2" fill="#fff"/><rect x="1113" y="489" width="4" height="4" fill="#009933"/><rect x="1114" y="490" width="2" height="2" fill="#fff"/><rect x="1121" y="477" width="4" height="4" fill="#009933"/><rect x="1122" y="478" width="2" height="2" fill="#fff"/><rect x="1129" y="475" width="4" height="4" fill="#009933"/><rect x="1130" y="476" width="2" height="2" fill="#fff"/><rect x="1137" y="472" width="4" height="4" fill="#009933"/><rect x="1138" y="473" width="2" height="2" fill="#fff"/><rect x="1145" y="485" width="4" height="4" fill="#009933"/><rect x="1146" y="486" width="2" height="2" fill="#fff"/><rect x="1153" y="483" width="4" height="4" fill="#009933"/><rect x="1154" y="484" width="2" height="2" fill="#fff"/><rect x="1161" y="483" width="4" height="4" fill="#009933"/><rect x="1162" y="484" width="2" height="2" fill="#fff"/><rect x="1168" y="474" width="4" height="4" fill="#009933"/><rect x="1169" y="475" width="2" height="2" fill="#fff"/><rect x="1176" y="486" width="4" height="4" fill="#009933"/><rect x="1177" y="487" width="2" height="2" fill="#fff"/><rect x="1184" y="495" width="4" height="4" fill="#009933"/><rect x="1185" y="496" width="2" height="2" fill="#fff"/>
</g>
<!-- price axis ticks -->
<g shape-rendering="crispEdges" fill="#909090">
<rect x="1356" y="48" width="4" height="1"/>
<rect x="1356" y="111" width="4" height="1"/>
<rect x="1356" y="174" width="4" height="1"/>
<rect x="1356" y="237" width="4" height="1"/>
<rect x="1356" y="300" width="4" height="1"/>
<rect x="1356" y="313" width="4" height="1" fill="#222"/>
</g>
<g font-weight="bold" font-size="15.7" fill="#000">
<text x="1362.5" y="51.7" textLength="26" lengthAdjust="spacingAndGlyphs">175</text>
<text x="1362.5" y="114.7" textLength="26" lengthAdjust="spacingAndGlyphs">170</text>
<text x="1362.5" y="177.7" textLength="26" lengthAdjust="spacingAndGlyphs">165</text>
<text x="1362.5" y="240.7" textLength="26" lengthAdjust="spacingAndGlyphs">160</text>
<text x="1362.5" y="303.7" textLength="26" lengthAdjust="spacingAndGlyphs">155</text>
</g>
<rect x="1360.5" y="301.5" width="53" height="24" fill="url(#yg)" stroke="#b0a070" stroke-width="1"/>
<text x="1362.8" y="320" font-weight="bold" font-size="15.7" textLength="49" lengthAdjust="spacingAndGlyphs">154.00</text>
<!-- ATR axis ticks -->
<g shape-rendering="crispEdges" fill="#909090">
<rect x="1356" y="371" width="4" height="1"/>
<rect x="1356" y="388" width="4" height="1"/>
<rect x="1356" y="405" width="4" height="1"/>
<rect x="1356" y="422" width="4" height="1"/>
<rect x="1356" y="439" width="4" height="1"/>
<rect x="1356" y="456" width="4" height="1"/>
<rect x="1356" y="473" width="4" height="1"/>
<rect x="1356" y="490" width="4" height="1"/>
<rect x="1356" y="507" width="4" height="1"/>
<rect x="1356" y="524" width="4" height="1"/>
<rect x="1356" y="541" width="4" height="1"/>
<rect x="1356" y="558" width="4" height="1"/>
<rect x="1356" y="575" width="4" height="1"/>
<rect x="1356" y="430" width="4" height="1" fill="#ff6600"/>
<rect x="1356" y="463" width="4" height="1" fill="#000099"/>
<rect x="1356" y="496" width="4" height="1" fill="#009933"/>
</g>
<g font-weight="bold" font-size="15.7" fill="#000">
<text x="1362.5" y="391.7" textLength="22.5" lengthAdjust="spacingAndGlyphs">2.4</text>
<text x="1362.5" y="425.7" textLength="22.5" lengthAdjust="spacingAndGlyphs">2.2</text>
<text x="1362.5" y="459.7" textLength="8.5" lengthAdjust="spacingAndGlyphs">2</text>
<text x="1362.5" y="493.7" textLength="22.5" lengthAdjust="spacingAndGlyphs">1.8</text>
<text x="1362.5" y="527.7" textLength="22.5" lengthAdjust="spacingAndGlyphs">1.6</text>
<text x="1362.5" y="561.7" textLength="22.5" lengthAdjust="spacingAndGlyphs">1.4</text>
</g>
<linearGradient id="bg2" x1="0" y1="0" x2="0" y2="1"><stop offset="0" stop-color="#fbfbfb"/><stop offset="1" stop-color="#e6e6e6"/></linearGradient>
<g shape-rendering="crispEdges">
<rect x="1360.5" y="418.5" width="53" height="24" fill="url(#bg2)" stroke="#b0b0a4"/>
<rect x="1360.5" y="451.5" width="53" height="24" fill="url(#bg2)" stroke="#b0b0a4"/>
<rect x="1360.5" y="484.5" width="53" height="24" fill="url(#bg2)" stroke="#b0b0a4"/>
</g>
<g font-weight="bold" font-size="15.7">
<text x="1362.5" y="437" fill="#ff6000" textLength="49" lengthAdjust="spacingAndGlyphs">2.1543</text>
<text x="1362.5" y="470" fill="#000099" textLength="49" lengthAdjust="spacingAndGlyphs">1.9585</text>
<text x="1362.5" y="503" fill="#009933" textLength="49" lengthAdjust="spacingAndGlyphs">1.7626</text>
</g>
<!-- top-left buttons -->
<g shape-rendering="crispEdges">
<rect x="2" y="4" width="39" height="16" fill="#f7f7f7"/>
<rect x="21" y="4" width="1" height="16" fill="#a8a8a0"/>
<rect x="41" y="4" width="1" height="16" fill="#a8a8a0"/>
<rect x="2" y="20" width="40" height="1" fill="#a8a8a0"/>
<rect x="42" y="4" width="62" height="24" fill="#f4f4f4"/>
<rect x="104" y="4" width="1" height="25" fill="#a8a8a0"/>
<rect x="42" y="28" width="62" height="1" fill="#a8a8a0"/>
<rect x="45" y="8" width="8" height="16" fill="#c8f0c8"/>
<rect x="53" y="8" width="8" height="16" fill="#f8c8c8"/>
</g>
<path d="M5.5,6.5 H14.5 L17.5,9.5 V17.5 H5.5 Z" fill="#fff" stroke="#6a90b0" stroke-width="1"/>
<path d="M14.5,6.5 V9.5 H17.5" fill="none" stroke="#6a90b0" stroke-width="1"/>
<path d="M10,9 H12 V12 H15 L11,16 L7,12 H10 Z" fill="#e8141c"/>
<path d="M25.5,6.5 H34.5 L37.5,9.5 V17.5 H25.5 Z" fill="#fff" stroke="#6a90b0" stroke-width="1"/>
<path d="M34.5,6.5 V9.5 H37.5" fill="none" stroke="#6a90b0" stroke-width="1"/>
<path d="M31,9 L35,13 H32 V16 H30 V13 H27 Z" fill="#10b010"/>
<text x="64.6" y="18.7" font-weight="bold" font-size="14.4" textLength="35.8" lengthAdjust="spacingAndGlyphs">Price</text>
<text x="4" y="357.5" font-size="9.3" fill="#000020" textLength="138" lengthAdjust="spacingAndGlyphs">ProRealTime.com - End of Day</text>
<!-- ATR legend -->
<g shape-rendering="crispEdges">
<rect x="2" y="361" width="89" height="24" fill="#f2f2f2"/>
<rect x="91" y="361" width="1" height="25" fill="#b0b0b0"/>
<rect x="2" y="385" width="89" height="1" fill="#b0b0b0"/>
<rect x="5" y="365" width="16" height="16" fill="#000099"/>
</g>
<text x="24" y="376" font-weight="bold" font-size="15" textLength="63" lengthAdjust="spacingAndGlyphs">ATR (14)</text>
<!-- bottom legend (cut off) -->
<g shape-rendering="crispEdges">
<rect x="130" y="594" width="1" height="6" fill="#b0b0b0"/>
<rect x="372" y="594" width="1" height="6" fill="#b0b0b0"/>
<rect x="712" y="594" width="1" height="6" fill="#b0b0b0"/>
<rect x="923" y="594" width="1" height="6" fill="#b0b0b0"/>
<rect x="1195" y="594" width="1" height="6" fill="#b0b0b0"/>
<rect x="5" y="597" width="15" height="5" fill="#000033"/>
<rect x="134" y="597" width="15" height="5" fill="#000033"/>
<rect x="376" y="597" width="15" height="5" fill="#000033"/>
<rect x="716" y="597" width="15" height="5" fill="#333300"/>
<rect x="927" y="597" width="15" height="5" fill="#cc3333"/>
</g>
<g font-weight="bold" font-size="15">
<text x="24" y="608" textLength="101" lengthAdjust="spacingAndGlyphs">RSI (2) 50.325</text>
<text x="153" y="608" textLength="215" lengthAdjust="spacingAndGlyphs">Chande momentum (2) 71.891</text>
<text x="397" y="608" textLength="55" lengthAdjust="spacingAndGlyphs">MACD</text>
<text x="523" y="608" fill="#0099dd" textLength="49" lengthAdjust="spacingAndGlyphs">1.0000</text>
<text x="583" y="608" fill="#009933" textLength="49" lengthAdjust="spacingAndGlyphs">1.0000</text>
<text x="635" y="608" fill="#990099" textLength="10" lengthAdjust="spacingAndGlyphs">0</text>
<text x="650" y="608" fill="#000099" textLength="50" lengthAdjust="spacingAndGlyphs">1.0071</text>
<text x="735" y="608" textLength="181" lengthAdjust="spacingAndGlyphs">Stochastic (3,1,1) 58.011</text>
<text x="946" y="608" textLength="136" lengthAdjust="spacingAndGlyphs">Stochastic (14,3,3)</text>
<text x="1087" y="608" fill="#009933" textLength="52" lengthAdjust="spacingAndGlyphs">82.337</text>
<text x="1147" y="608" fill="#ee0000" textLength="43" lengthAdjust="spacingAndGlyphs">13.876</text>
</g>
</svg>
</body></html>
